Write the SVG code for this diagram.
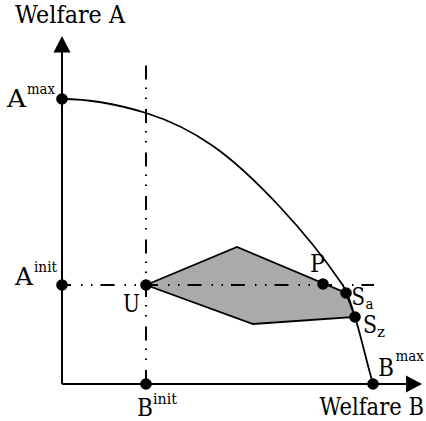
<svg xmlns="http://www.w3.org/2000/svg" width="426" height="421" viewBox="0 0 426 421">
<style>
text{font-family:"DejaVu Serif","Liberation Serif",serif;fill:#000;}
.lab{font-size:23.5px;}
.sm{font-size:15px;}
.ax{stroke:#000;stroke-width:2;fill:none;}
.dd{stroke:#000;stroke-width:2;fill:none;stroke-dasharray:14 10 1.5 8.5 1.5 8;}
.dot{fill:#000;}
</style>
<rect width="426" height="421" fill="#fff"/>
<g id="region">
<polygon points="146,285 237,247 346,293 355,317 253,324" fill="#aaaaaa" stroke="#000" stroke-width="1.8" stroke-linejoin="miter"/>
</g>
<g id="connectors">
<line class="dd" x1="62" y1="285" x2="374" y2="285" stroke-dashoffset="5"/>
<line class="dd" x1="146" y1="384" x2="146" y2="64"/>
<path class="ax" d="M62,384 V50"/>
<polygon points="62,36 53.5,52.5 70.5,52.5" fill="#000"/>
<path class="ax" d="M62,384 H408"/>
<polygon points="422,384 406,375.5 406,392.5" fill="#000"/>
<path id="frontier" fill="none" stroke="#000" stroke-width="1.8" d="M62,99 C90.4,99 118.9,104.6 146,113 C169.8,120.4 192.6,131.7 213,146 C237.7,163.3 259.4,184.9 280,207 C302.5,231.1 323.4,256.7 342,284 C348.6,293.7 351.5,305.7 355,317 C361.8,339.1 366.5,361.7 373,384"/>
</g>
<g id="Amax"><circle class="dot" cx="62" cy="99" r="5.8"/><text class="lab" x="7" y="107" textLength="19" lengthAdjust="spacingAndGlyphs">A</text><text class="sm" x="27" y="94" textLength="28" lengthAdjust="spacingAndGlyphs">max</text></g>
<g id="Ainit"><circle class="dot" cx="62" cy="285" r="5.8"/><text class="lab" x="15" y="285" textLength="18" lengthAdjust="spacingAndGlyphs">A</text><text class="sm" x="34" y="272" textLength="23" lengthAdjust="spacingAndGlyphs">init</text></g>
<g id="U"><circle class="dot" cx="146" cy="285" r="5.8"/><text class="lab" x="123" y="312" textLength="17" lengthAdjust="spacingAndGlyphs">U</text></g>
<g id="Binit"><circle class="dot" cx="146" cy="384" r="5.8"/><text class="lab" x="137" y="415.5" textLength="16" lengthAdjust="spacingAndGlyphs">B</text><text class="sm" x="153" y="404" textLength="24" lengthAdjust="spacingAndGlyphs">init</text></g>
<g id="P"><circle class="dot" cx="323" cy="284" r="5.8"/><text class="lab" x="310" y="272" textLength="15" lengthAdjust="spacingAndGlyphs">P</text></g>
<g id="Sa"><circle class="dot" cx="346" cy="293" r="5.8"/><text class="lab" x="351.5" y="305" textLength="13.5" lengthAdjust="spacingAndGlyphs">S</text><text class="sm" x="365.5" y="309" textLength="8" lengthAdjust="spacingAndGlyphs">a</text></g>
<g id="Sz"><circle class="dot" cx="355" cy="317" r="5.8"/><text class="lab" x="363" y="332.5" textLength="14" lengthAdjust="spacingAndGlyphs">S</text><text class="sm" x="377" y="336.5" textLength="8" lengthAdjust="spacingAndGlyphs">z</text></g>
<g id="Bmax"><circle class="dot" cx="373" cy="384" r="5.8"/><text class="lab" x="378" y="376" textLength="16" lengthAdjust="spacingAndGlyphs">B</text><text class="sm" x="395.5" y="361" textLength="28.5" lengthAdjust="spacingAndGlyphs">max</text></g>
<g id="axisA"><text class="lab" x="15" y="23" textLength="110" lengthAdjust="spacingAndGlyphs">Welfare A</text></g>
<g id="axisB"><text class="lab" x="319.5" y="415" textLength="104.5" lengthAdjust="spacingAndGlyphs">Welfare B</text></g>
</svg>
